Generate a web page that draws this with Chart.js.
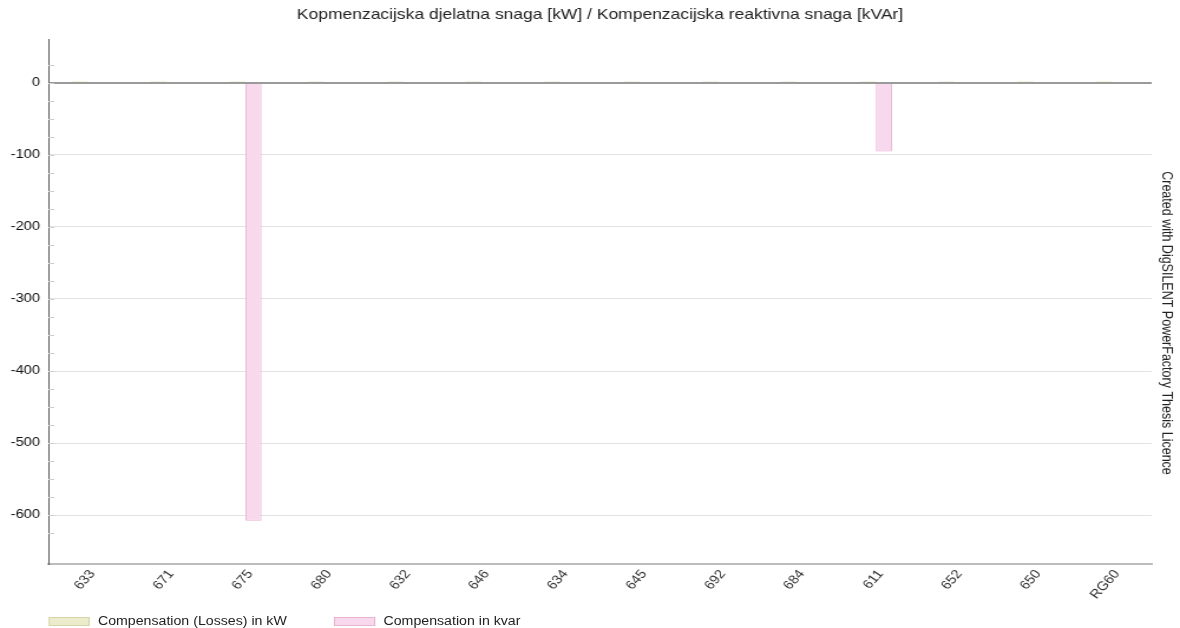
<!DOCTYPE html>
<html>
<head>
<meta charset="utf-8">
<script src="https://cdn.jsdelivr.net/npm/chart.js@4/dist/chart.umd.min.js"></script>
<style>
  html, body { margin: 0; padding: 0; background: #fff; overflow: hidden; }
  /* the original export is a horizontally stretched screenshot, so draw at 1000px and stretch */
  #wrap { width: 1000px; height: 628px; position: relative; transform: scaleX(1.18); transform-origin: 0 0; }
  #box { position: absolute; left: 0; top: 0; width: 1000px; height: 628px; }
  .lg { position: absolute; top: 614px; display: flex; align-items: center;
        font: 12px Arial, "Liberation Sans", sans-serif; color: #222; white-space: nowrap; }
  .lg span.sw { display: inline-block; width: 35px; height: 9px; margin-right: 7px; box-sizing: border-box; }
</style>
</head>
<body>
<div id="wrap">
  <div id="box"><canvas id="chart"></canvas></div>
  <div id="legend"></div>
</div>
<script>
// Nodes on the x axis
const NODES = ['633', '671', '675', '680', '632', '646', '634', '645', '692', '684', '611', '652', '650', 'RG60'];

// Compensation values per node
const LOSSES_KW = [2, 2, 2, 2, 2, 2, 2, 2, 2, 2, 2, 2, 2, 2];
const COMP_KVAR = [0, 0, -608, 0, 0, 0, 0, 0, 0, 0, -95, 0, 0, 0];

const TITLE = 'Kopmenzacijska djelatna snaga [kW] / Kompenzacijska reaktivna snaga [kVAr]';
const WATERMARK = 'Created with DigSILENT PowerFactory Thesis Licence';

const FONT = 'Arial, "Liberation Sans", sans-serif';

const SERIES_FILL   = ['#ecebcb', '#f8d8ec'];
const SERIES_BORDER = ['#d6d5aa', '#e6b3d1'];

// Centre the title over the plot, draw minor ticks inside the plot and the rotated watermark
const extrasPlugin = {
  id: 'pfExtras',
  afterLayout(chart) {
    const t = chart.titleBlock;
    if (t) {
      t.left = chart.chartArea.left;
      t.right = chart.chartArea.right;
    }
  },
  afterDraw(chart) {
    const ctx = chart.ctx;
    const y = chart.scales.y;
    const area = chart.chartArea;
    ctx.save();
    ctx.strokeStyle = '#cfcfcf';
    ctx.lineWidth = 1;
    y.ticks.forEach(t => {
      if (t.value === y.min || t.value === y.max) return;
      const py = Math.round(y.getPixelForValue(t.value)) + 0.5;
      ctx.beginPath();
      ctx.moveTo(area.left, py);
      ctx.lineTo(area.left + 5, py);
      ctx.stroke();
    });
    // watermark
    ctx.fillStyle = '#222';
    ctx.font = '12.5px ' + FONT;
    ctx.textAlign = 'center';
    ctx.textBaseline = 'middle';
    ctx.translate(area.right + 12, 323);
    ctx.rotate(Math.PI / 2);
    ctx.fillText(WATERMARK, 0, 0);
    ctx.restore();
  }
};

const chart = new Chart(document.getElementById('chart'), {
  type: 'bar',
  data: {
    labels: NODES,
    datasets: [
      {
        label: 'Compensation (Losses) in kW',
        data: LOSSES_KW,
        backgroundColor: SERIES_FILL[0],
        borderColor: SERIES_BORDER[0],
        borderWidth: 0,
        categoryPercentage: 0.41,
        barPercentage: 1.0,
      },
      {
        label: 'Compensation in kvar',
        data: COMP_KVAR,
        backgroundColor: SERIES_FILL[1],
        borderColor: SERIES_BORDER[1],
        borderWidth: 1,
        categoryPercentage: 0.41,
        barPercentage: 1.0,
      },
    ],
  },
  options: {
    responsive: true,
    maintainAspectRatio: false,
    animation: false,
    layout: { padding: { left: 0, right: 24, top: 0, bottom: 24 } },
    plugins: {
      title: {
        display: true,
        text: TITLE,
        color: '#222',
        font: { family: FONT, size: 14.8, weight: 'normal' },
        padding: { top: 6, bottom: 16 },
      },
      legend: { display: false },
      tooltip: { enabled: false },
    },
    scales: {
      x: {
        grid: { display: false, drawTicks: false },
        border: { display: true, color: '#bdbdbd', width: 2 },
        ticks: {
          color: '#333',
          font: { family: FONT, size: 12.5 },
          minRotation: 52,
          maxRotation: 52,
          padding: 3,
          labelOffset: 4,
        },
        afterFit(scale) { scale.height = 40; },
      },
      y: {
        min: -668,
        max: 60,
        grid: {
          drawTicks: false,
          color(ctx) {
            const v = ctx.tick.value;
            if (v === 0) return '#9a9a9a';
            return v % 100 === 0 ? '#e2e2e2' : 'rgba(0,0,0,0)';
          },
          lineWidth(ctx) { return ctx.tick.value === 0 ? 2 : 1; },
        },
        border: { display: true, color: '#555', width: 1 },
        ticks: {
          stepSize: 25,
          autoSkip: false,
          color: '#111',
          font: { family: FONT, size: 12.5 },
          padding: 7,
          callback(val) { return val % 100 === 0 ? String(val) : ''; },
        },
        afterFit(scale) { scale.width = 41; },
      },
    },
  },
  plugins: [extrasPlugin],
});

// HTML legend built from the datasets
const LEGEND_LEFT = [41, 283];
const legendEl = document.getElementById('legend');
chart.data.datasets.forEach((ds, i) => {
  const item = document.createElement('div');
  item.className = 'lg';
  item.style.left = LEGEND_LEFT[i] + 'px';
  const sw = document.createElement('span');
  sw.className = 'sw';
  sw.style.background = SERIES_FILL[i];
  sw.style.border = '1px solid ' + SERIES_BORDER[i];
  item.appendChild(sw);
  item.appendChild(document.createTextNode(ds.label));
  legendEl.appendChild(item);
});
</script>
</body>
</html>
